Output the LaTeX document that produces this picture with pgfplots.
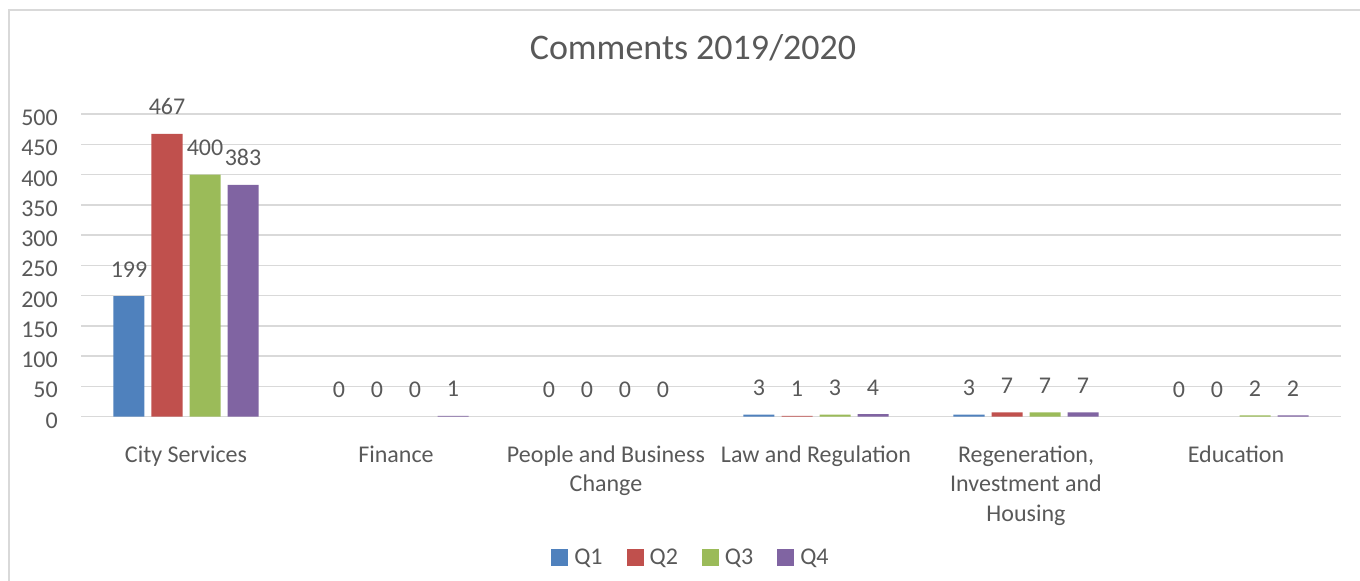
\documentclass[border=0pt]{standalone}
\usepackage{fontspec}
\setmainfont{Carlito}
\usepackage{pgfplots}
\pgfplotsset{compat=1.18}
\definecolor{txt}{HTML}{595959}
\definecolor{gridc}{HTML}{D9D9D9}
\definecolor{cQa}{HTML}{4F81BD}
\definecolor{cQb}{HTML}{C0504D}
\definecolor{cQc}{HTML}{9BBB59}
\definecolor{cQd}{HTML}{8064A2}
\newcommand\lbl{\fontsize{24bp}{29.5bp}\selectfont}
\newcommand\ttl{\fontsize{36bp}{43bp}\selectfont}
\pgfplotsset{
  sqlegend/.style={legend image code/.code={\fill[##1] (0bp,-8.5bp) rectangle (17bp,8.5bp);}},
  valuelabels/.style={forget plot, draw=none, fill=none, nodes near coords,
    every node near coord/.append style={font=\lbl, text=txt, anchor=base, inner sep=0pt, yshift=19bp}},
}
\begin{document}
\begin{tikzpicture}
\useasboundingbox (0,0) rectangle (1360bp,581bp);
\draw[gridc, line width=1.5bp] (9bp,-30bp) -- (9bp,571bp) -- (1400bp,571bp);
\begin{axis}[
  at={(81bp,164.5bp)}, anchor=south west,
  scale only axis, width=1260bp, height=302.5bp,
  xmin=-0.5, xmax=5.5, ymin=0, ymax=500,
  ytick={0,50,...,500},
  xtick={0,1,2,3,4,5},
  xticklabels={{\strut City Services},{\strut Finance},{\strut People and Business\\Change},{\strut Law and Regulation},{\strut Regeneration,\\Investment and\\Housing},{\strut Education}},
  /pgf/number format/assume math mode=true,
  axis line style={draw=none},
  major tick length=0pt,
  ymajorgrids, grid style={draw=gridc, line width=1.5bp},
  tick label style={font=\lbl, text=txt},
  yticklabel style={anchor=east, inner sep=0pt, xshift=-23bp, yshift=-4bp},
  xticklabel style={anchor=north, inner sep=0pt, yshift=-25bp, align=center},
  clip=false,
  ybar, bar width=31bp,
  title={Comments 2019/2020},
  title style={at={(axis description cs:0.4857,1.162)}, anchor=base, font=\ttl, text=txt, inner sep=0pt},
  legend columns=4,
  legend style={draw=none, fill=none, at={(axis description cs:0.4833,-0.466)}, anchor=center, font=\lbl, text=txt,
    nodes={inner sep=0pt},
    /tikz/every odd column/.append style={column sep=6bp},
    /tikz/every even column/.append style={column sep=24bp}},
]
% bars (zero values are not drawn)
\addplot[sqlegend, fill=cQa, draw=none, bar shift=-57bp] coordinates {(0,199) (3,3) (4,3)};
\addplot[sqlegend, fill=cQb, draw=none, bar shift=-19bp] coordinates {(0,467) (3,1) (4,7)};
\addplot[sqlegend, fill=cQc, draw=none, bar shift=19bp] coordinates {(0,400) (3,3) (4,7) (5,2)};
\addplot[sqlegend, fill=cQd, draw=none, bar shift=57bp] coordinates {(0,383) (1,1) (3,4) (4,7) (5,2)};
\legend{Q1,Q2,Q3,Q4}
% value labels
\addplot[valuelabels, bar shift=-57bp] coordinates {(0,199) (1,0) (2,0) (3,3) (4,3) (5,0)};
\addplot[valuelabels, bar shift=-19bp] coordinates {(0,467) (1,0) (2,0) (3,1) (4,7) (5,0)};
\addplot[valuelabels, bar shift=19bp] coordinates {(0,400) (1,0) (2,0) (3,3) (4,7) (5,2)};
\addplot[valuelabels, bar shift=57bp] coordinates {(0,383) (1,1) (2,0) (3,4) (4,7) (5,2)};
\end{axis}
\end{tikzpicture}
\end{document}
